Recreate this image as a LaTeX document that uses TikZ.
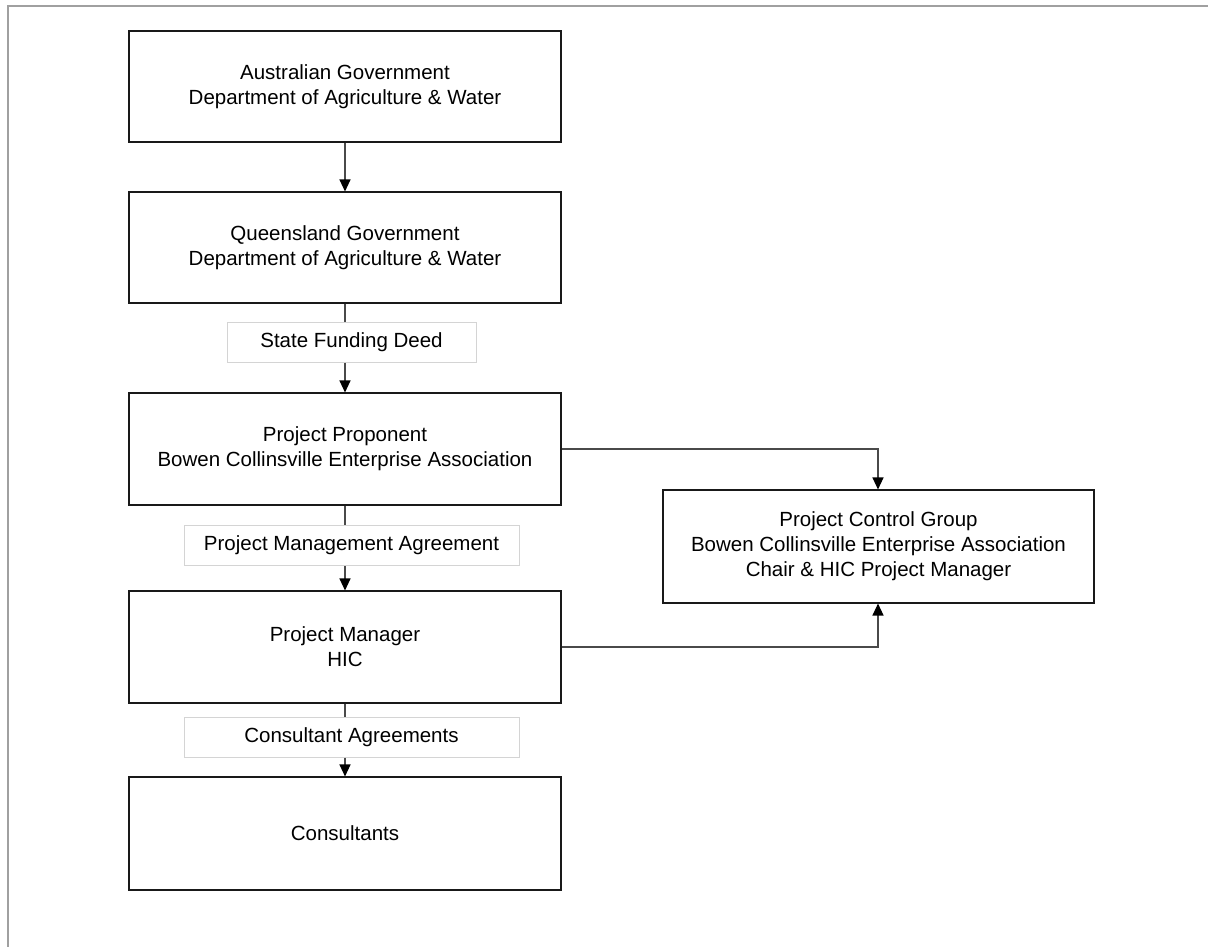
\documentclass[tikz,border=0pt]{standalone}
\usepackage{fontspec}
\setmainfont{Liberation Sans}
\usetikzlibrary{arrows.meta}
\definecolor{framegray}{HTML}{A0A0A0}
\definecolor{linegray}{HTML}{4A4A4A}
\definecolor{labelgray}{HTML}{D4D4D4}
\begin{document}
\begin{tikzpicture}[x=1pt,y=-1pt,
  orgbox/.style={draw=black!90, line width=1.1pt, fill=white, minimum width=432pt, minimum height=111pt, inner sep=0pt, align=center, font=\fontsize{20.5pt}{25pt}\selectfont},
  agreement/.style={draw=labelgray, line width=1pt, fill=white, minimum height=40pt, inner sep=0pt, align=center, font=\fontsize{20.5pt}{25pt}\selectfont},
  conn/.style={draw=linegray, line width=1.2pt},
  arr/.style={conn, -{Triangle[length=12pt,width=11pt,color=black,fill=black]}}
]
\useasboundingbox (0,0) rectangle (1208,947);
\draw[framegray, line width=2pt] (8,948) -- (8,6) -- (1209,6);

\node[orgbox] (b1) at (345,86.5) {Australian Government\\Department of Agriculture \& Water};
\node[orgbox] (b2) at (345,247.5) {Queensland Government\\Department of Agriculture \& Water};
\node[orgbox, minimum height=112pt] (b3) at (345,449) {Project Proponent\\Bowen Collinsville Enterprise Association};
\node[orgbox, minimum height=112pt] (b4) at (345,647) {Project Manager\\HIC};
\node[orgbox, minimum height=113pt] (b5) at (345,833.5) {Consultants};
\node[orgbox, minimum width=431pt, minimum height=113pt] (pcg) at (878.5,546.5) {Project Control Group\\Bowen Collinsville Enterprise Association\\Chair \& HIC Project Manager};

\node[agreement, minimum width=249pt] (sfd) at (351.5,342) {State Funding Deed};
\node[agreement, minimum width=335pt] (pma) at (351.5,545.5) {Project Management Agreement};
\node[agreement, minimum width=335pt] (ca) at (351.5,737) {Consultant Agreements};

\draw[arr] (b1.south) -- (b2.north);
\draw[conn] (b2.south) -- (b2.south |- sfd.north);
\draw[arr] (b2.south |- sfd.south) -- (b3.north);
\draw[conn] (b3.south) -- (b3.south |- pma.north);
\draw[arr] (b3.south |- pma.south) -- (b4.north);
\draw[conn] (b4.south) -- (b4.south |- ca.north);
\draw[arr] (b4.south |- ca.south) -- (b5.north);
\draw[arr] (b3.east) -| ([xshift=-0.5pt]pcg.north);
\draw[arr] (b4.east) -| ([xshift=-0.5pt]pcg.south);
\end{tikzpicture}
\end{document}
